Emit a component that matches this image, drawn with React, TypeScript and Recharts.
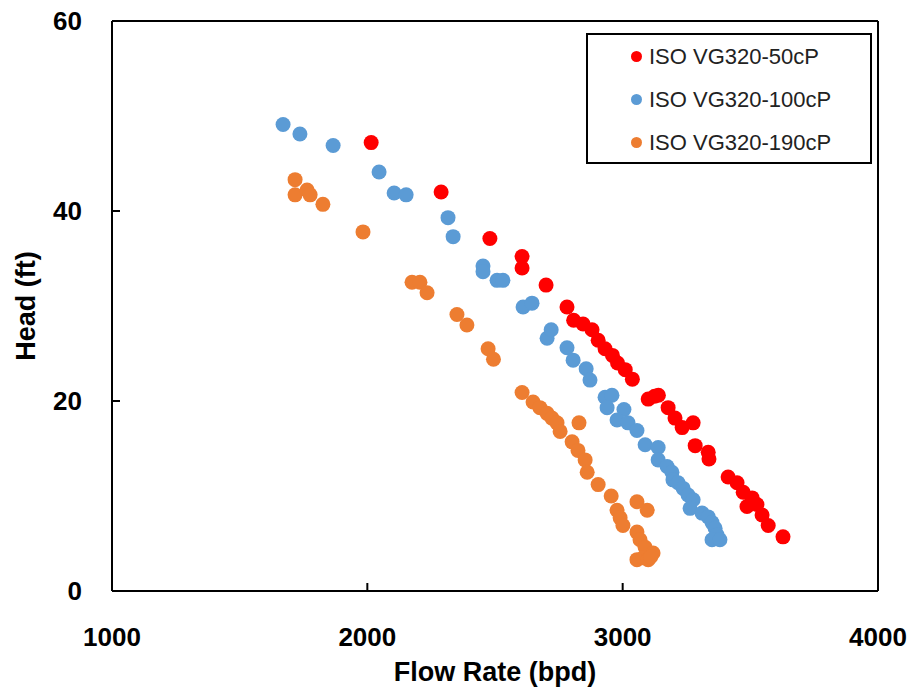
import React from "react"
import { ScatterChart, Scatter, XAxis, YAxis, ReferenceLine } from "recharts"

const xTicks = [1000, 2000, 3000, 4000]
const yTicks = [0, 20, 40, 60]

const seriesNames = ["ISO VG320-50cP", "ISO VG320-100cP", "ISO VG320-190cP"]
const seriesColors = ["#FF0000", "#5B9BD5", "#ED7D31"]

const flow50 = [2015, 2289, 2480, 2606, 2606, 2700, 2782, 2808, 2845, 2880, 2904, 2931, 2960, 2980, 3010, 3038, 3100, 3125, 3140, 3178, 3205, 3233, 3276, 3284, 3335, 3338, 3413, 3448, 3472, 3507, 3487, 3526, 3546, 3570, 3628]
const head50 = [47.2, 42.0, 37.1, 35.2, 34.0, 32.2, 29.9, 28.5, 28.1, 27.5, 26.4, 25.5, 24.8, 24.0, 23.3, 22.3, 20.2, 20.5, 20.6, 19.3, 18.2, 17.2, 17.7, 15.3, 14.6, 13.9, 12.0, 11.4, 10.4, 9.8, 8.9, 9.1, 8.0, 6.9, 5.7]

const flow100 = [1670, 1736, 1866, 2046, 2105, 2152, 2316, 2336, 2453, 2453, 2508, 2531, 2610, 2645, 2704, 2720, 2782, 2806, 2857, 2872, 2931, 2958, 2939, 3005, 2978, 3021, 3056, 3088, 3139, 3139, 3174, 3193, 3197, 3217, 3237, 3256, 3276, 3264, 3311, 3335, 3350, 3362, 3370, 3350, 3381]
const head100 = [49.1, 48.1, 46.9, 44.1, 41.9, 41.7, 39.3, 37.3, 34.2, 33.6, 32.7, 32.7, 29.9, 30.3, 26.6, 27.5, 25.6, 24.3, 23.4, 22.2, 20.4, 20.6, 19.3, 19.1, 18.0, 17.7, 16.9, 15.4, 15.1, 13.8, 13.1, 12.5, 11.7, 11.4, 10.8, 10.1, 9.6, 8.7, 8.2, 7.8, 7.2, 6.6, 5.9, 5.4, 5.4]

const flow190 = [1717, 1717, 1764, 1776, 1826, 1983, 2175, 2206, 2234, 2351, 2390, 2473, 2494, 2606, 2649, 2676, 2704, 2723, 2743, 2755, 2829, 2802, 2825, 2853, 2861, 2904, 2955, 2978, 2990, 3001, 3056, 3096, 3056, 3068, 3088, 3056, 3080, 3100, 3119, 3110]
const head190 = [43.3, 41.7, 42.2, 41.7, 40.7, 37.8, 32.5, 32.5, 31.4, 29.1, 28.0, 25.5, 24.4, 20.9, 19.9, 19.3, 18.7, 18.2, 17.7, 16.8, 17.7, 15.7, 14.8, 13.8, 12.5, 11.2, 10.0, 8.5, 7.7, 6.9, 9.4, 8.5, 6.2, 5.4, 4.6, 3.3, 3.5, 3.3, 4.0, 3.6]

const zip = (xs: number[], ys: number[]) => xs.map((x, i) => ({ flow: x, head: ys[i] }))
const allSeries = [zip(flow50, head50), zip(flow100, head100), zip(flow190, head190)]

const FONT = "'Liberation Sans', Arial, sans-serif"

const XTick = ({ x, y, payload }: any) => (
  <g>
    <line x1={x} x2={x} y1={y} y2={y - 8} stroke="#000" strokeWidth={2} />
    <text x={x} y={y + 55} textAnchor="middle" fontSize={26} fontWeight="bold" fontFamily={FONT} fill="#000">
      {payload.value}
    </text>
  </g>
)

const YTick = ({ x, y, payload }: any) => (
  <g>
    <line x1={x} x2={x + 8} y1={y} y2={y} stroke="#000" strokeWidth={2} />
    <text x={x - 30} y={y + 9} textAnchor="end" fontSize={26} fontWeight="bold" fontFamily={FONT} fill="#000">
      {payload.value}
    </text>
  </g>
)

const Dot = (color: string) => (props: any) => <circle cx={props.cx} cy={props.cy} r={7.5} fill={color} />

export default function App() {
  return (
    <div style={{ position: "absolute", left: 0, top: 0, width: 916, height: 693, background: "#fff" }}>
      <ScatterChart width={916} height={693} margin={{ top: 21, right: 38, bottom: 52, left: 52 }}>
        <XAxis
          type="number"
          dataKey="flow"
          domain={[1000, 4000]}
          ticks={xTicks}
          tick={<XTick />}
          tickLine={false}
          tickSize={0}
          tickMargin={0}
          axisLine={{ stroke: "#000", strokeWidth: 2 }}
          height={50}
          label={{ value: "Flow Rate (bpd)", position: "insideBottom", offset: -40, fontSize: 27, fontWeight: "bold", fontFamily: FONT, fill: "#000" }}
        />
        <YAxis
          type="number"
          dataKey="head"
          domain={[0, 60]}
          ticks={yTicks}
          tick={<YTick />}
          tickLine={false}
          tickSize={0}
          tickMargin={0}
          axisLine={{ stroke: "#000", strokeWidth: 2 }}
          width={60}
          label={{ value: "Head (ft)", angle: -90, position: "insideLeft", offset: -27, fontSize: 27, fontWeight: "bold", fontFamily: FONT, fill: "#000", style: { textAnchor: "middle" } }}
        />
        <ReferenceLine y={60} stroke="#000" strokeWidth={2} />
        <ReferenceLine x={4000} stroke="#000" strokeWidth={2} />
        {allSeries.map((data, i) => (
          <Scatter key={seriesNames[i]} name={seriesNames[i]} data={data} fill={seriesColors[i]} shape={Dot(seriesColors[i])} isAnimationActive={false} />
        ))}
      </ScatterChart>
      <div style={{ position: "absolute", top: 33, left: 586, width: 282, height: 127, border: "2px solid #000", background: "#fff", fontFamily: FONT }}>
        {seriesNames.map((name, i) => (
          <div key={name} style={{ display: "flex", alignItems: "center", height: 43, paddingLeft: 43 }}>
            <span style={{ width: 11, height: 11, borderRadius: "50%", background: seriesColors[i], marginRight: 7 }} />
            <span style={{ fontSize: 22, color: "#222" }}>{name}</span>
          </div>
        ))}
      </div>
    </div>
  )
}
